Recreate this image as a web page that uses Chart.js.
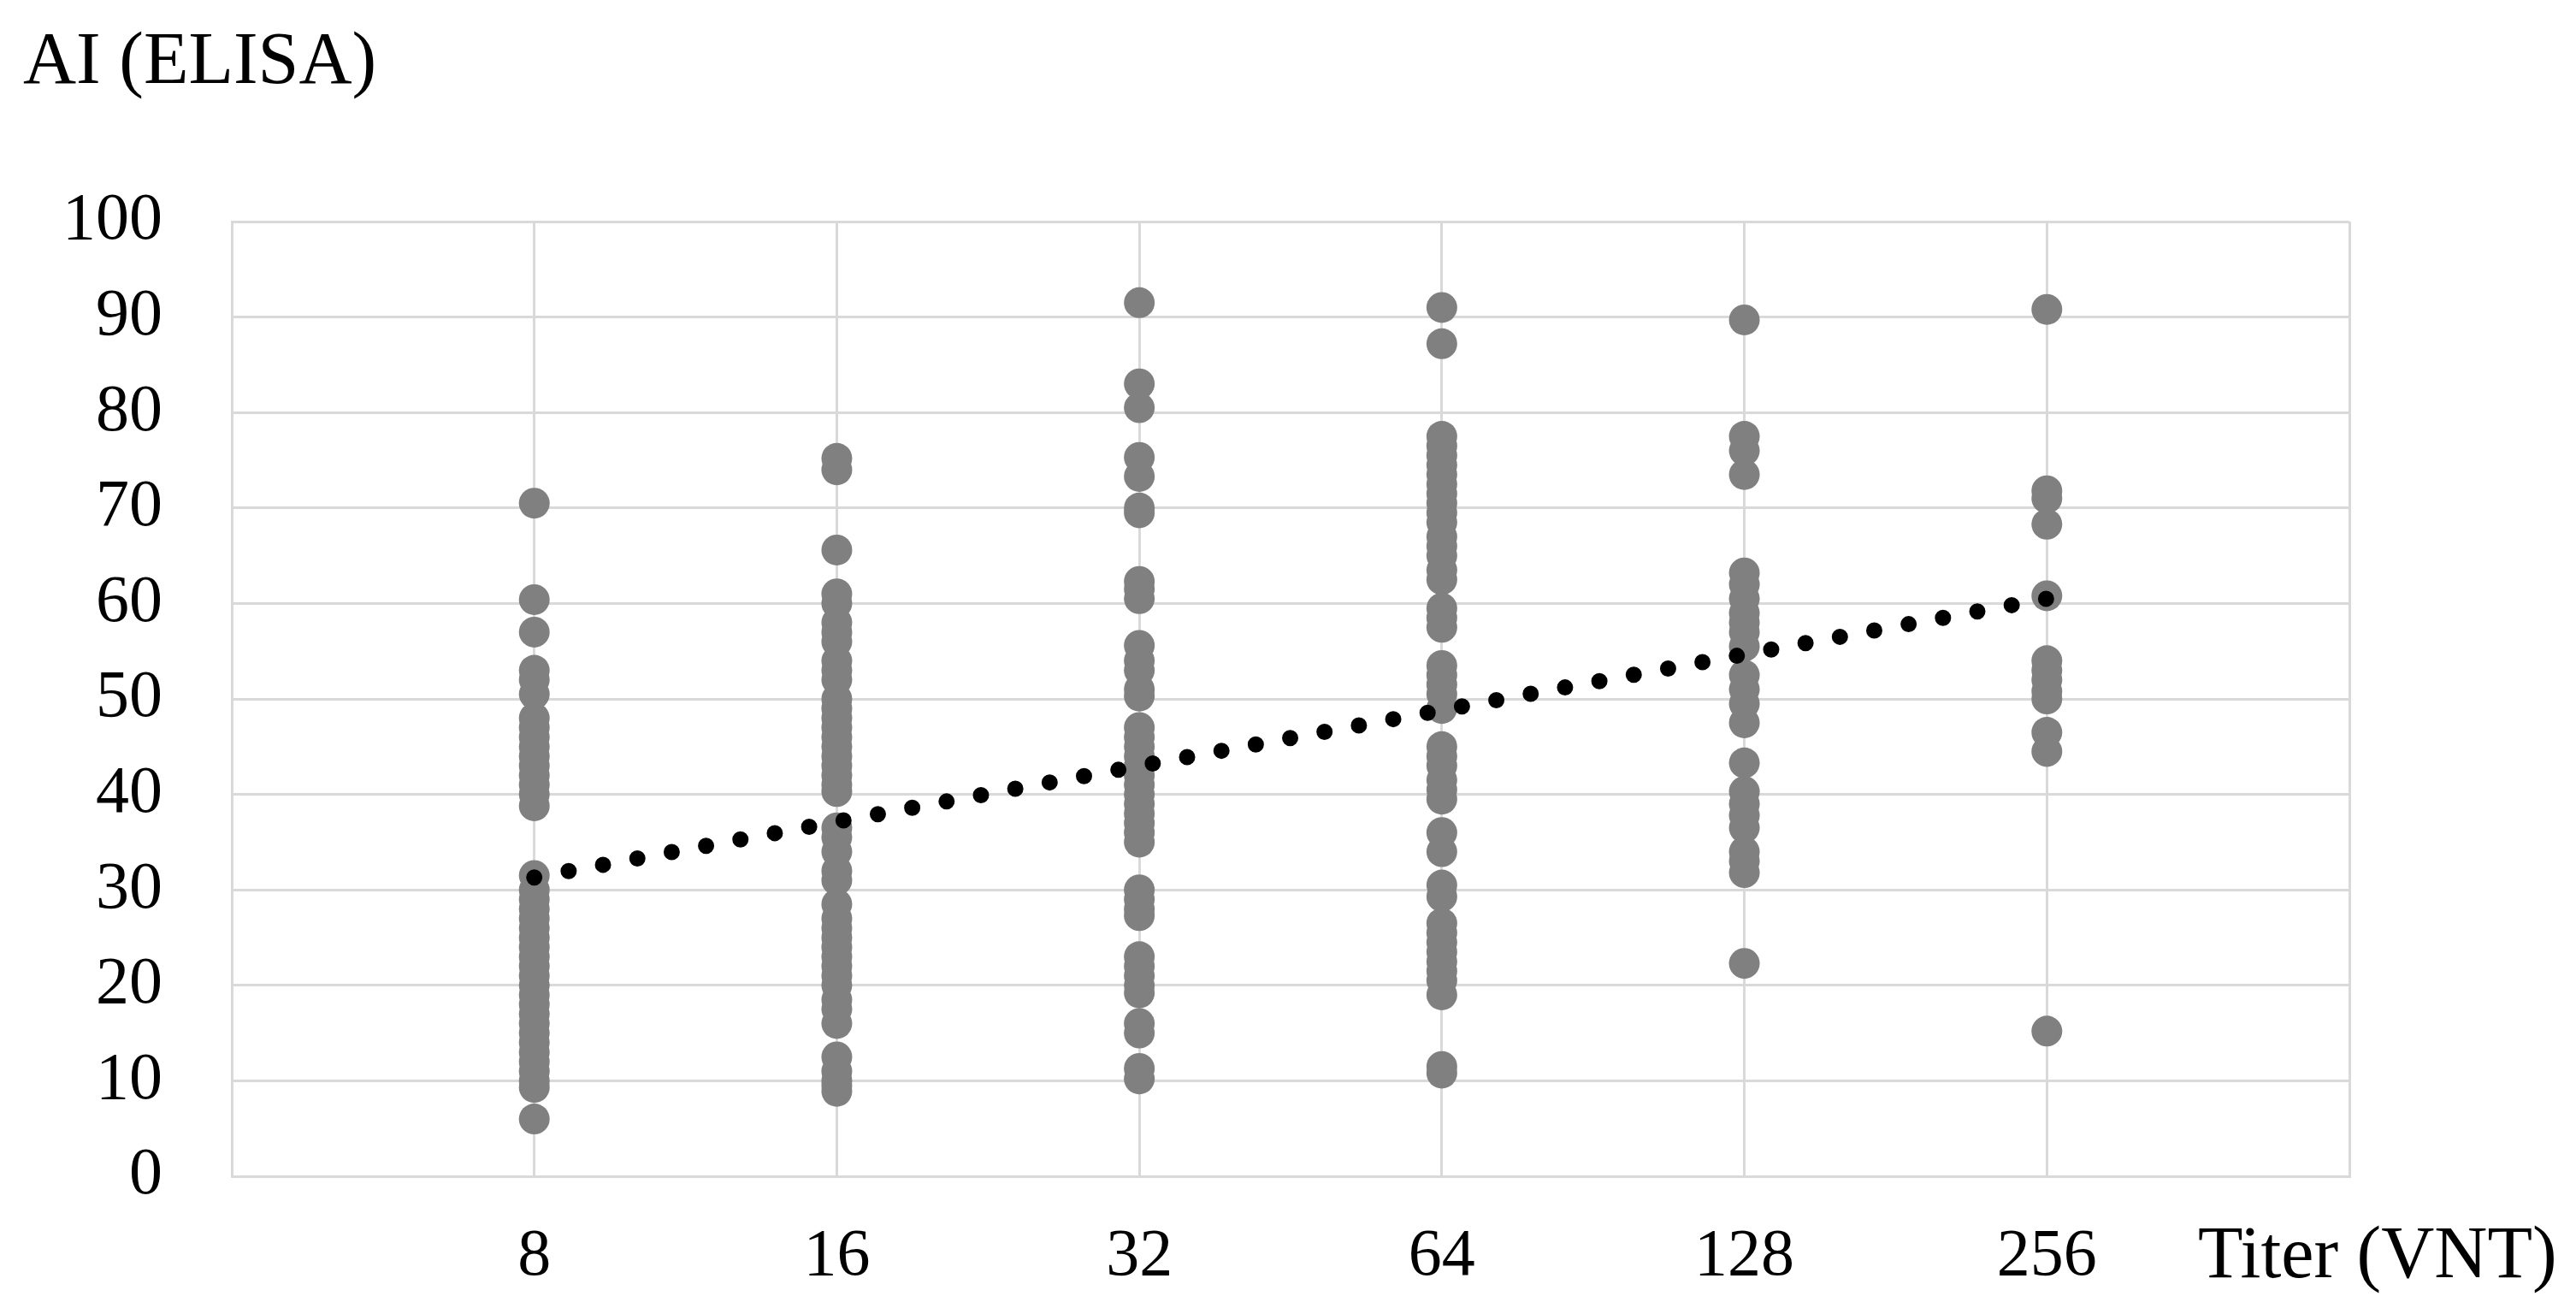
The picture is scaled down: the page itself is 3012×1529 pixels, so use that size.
<!DOCTYPE html>
<html>
<head>
<meta charset="utf-8">
<script src="https://cdn.jsdelivr.net/npm/chart.js@4/dist/chart.umd.min.js"></script>
<style>
  html, body { margin: 0; padding: 0; background: #fff; }
  canvas { display: block; }
</style>
</head>
<body>
<canvas id="aiChart" width="3012" height="1529"></canvas>
<script>
// titers on the x axis (VNT)
const titers = ["8", "16", "32", "64", "128", "256"];

// AI (ELISA) values per titer
const ai8 = [70.5, 60.4, 57, 53, 52, 50.5, 48, 47, 46, 45, 44, 43, 42, 41, 40, 38.8,
    31.5, 30, 29, 28, 27, 26, 25, 24, 23, 22, 21, 20, 19, 18, 17, 16, 15, 14, 13, 12, 11, 10, 9.3, 6];
const ai16 = [75.2, 74, 65.6, 61, 60, 58, 57, 56, 54, 53, 52, 50, 49, 48, 47, 46, 45, 44, 43, 42, 41, 40.3,
    36.5, 35.5, 34, 32, 31, 28.5, 27, 26, 25, 24, 23, 22, 21, 20, 18.5, 17.5, 16, 12.5, 11, 10, 9.5, 8.9];
const ai32 = [91.5, 83, 80.5, 75.3, 73.3, 70, 69.5, 62.3, 61.5, 60.5, 55.6, 54, 53, 51, 50.3,
    47, 46, 45, 44, 43, 42, 41, 40, 39, 38, 37, 36, 35, 30, 29, 28, 27.3, 23, 22, 21, 20, 19.2, 16, 15, 11.3, 10.2];
const ai64 = [91, 87.2, 77.5, 76.5, 75.5, 74.5, 73.5, 72.5, 71.5, 70.5, 69.5, 68.5, 67, 66, 65, 63.5, 62.5,
    59.5, 58.5, 57.5, 53.5, 52.5, 51.5, 50.5, 49, 45, 44, 43, 41.5, 40.5, 39.5, 36, 34, 30.5, 29.3,
    26.5, 25.5, 24.5, 23.5, 22.5, 21.5, 20.5, 19, 11.5, 10.8];
const ai128 = [89.7, 77.5, 76, 73.5, 63.2, 62, 60.5, 59, 58, 57, 55.5, 52.5, 51, 49.5, 47.5, 43.3,
    40.3, 39, 37.8, 36.5, 34, 33, 31.8, 22.3];
const ai256 = [90.8, 71.8, 71, 68.3, 60.8, 54, 53, 52, 50.8, 50, 46.5, 44.5, 15.2];

// linear trend line, value at first and last titer
const trendStart = 31.3;
const trendEnd = 60.5;

const groups = [ai8, ai16, ai32, ai64, ai128, ai256];
const points = [];
groups.forEach(function(vals, i) {
    vals.forEach(function(v) {
        points.push({ x: i + 1, y: v });
    });
});

const serif = "'Liberation Serif', 'Times New Roman', serif";
const gridColor = "#d9d9d9";

// axis titles drawn as plain text on the canvas
const axisTitles = {
    id: "axisTitles",
    afterDraw(chart) {
        const c = chart.ctx;
        c.save();
        c.fillStyle = "#000";
        c.font = "86px " + serif;
        c.textAlign = "left";
        c.textBaseline = "alphabetic";
        c.fillText("AI (ELISA)", 27, 97);
        c.fillText("Titer (VNT)", 2570, 1493);
        c.restore();
    }
};

const ctx = document.getElementById("aiChart").getContext("2d");

const chart = new Chart(ctx, {
    type: "scatter",
    data: {
        datasets: [{
            type: "line",
            label: "Trend",
            data: [{ x: 1, y: trendStart }, { x: titers.length, y: trendEnd }],
            borderColor: "#000",
            borderWidth: 19,
            borderDash: [0, 40.85],
            borderCapStyle: "round",
            pointRadius: 0,
            fill: false,
            order: 0
        }, {
            label: "AI",
            data: points,
            backgroundColor: "#808080",
            borderWidth: 0,
            pointRadius: 18,
            pointHoverRadius: 18,
            order: 1
        }]
    },
    options: {
        responsive: false,
        animation: false,
        events: [],
        layout: {
            padding: { top: 259, right: 265, left: 0, bottom: 0 }
        },
        plugins: {
            legend: { display: false },
            tooltip: { enabled: false }
        },
        scales: {
            x: {
                type: "linear",
                min: 0,
                max: titers.length + 1,
                afterFit: function(scale) { scale.height = 154; },
                grid: { color: gridColor, lineWidth: 3, drawTicks: false },
                border: { color: gridColor, width: 3 },
                ticks: {
                    stepSize: 1,
                    autoSkip: false,
                    maxRotation: 0,
                    padding: 48,
                    color: "#000",
                    font: { family: serif, size: 78 },
                    callback: function(v) {
                        return titers[v - 1] || "";
                    }
                }
            },
            y: {
                min: 0,
                max: 100,
                afterFit: function(scale) { scale.width = 271; },
                grid: { color: gridColor, lineWidth: 3, drawTicks: false },
                border: { color: gridColor, width: 3 },
                ticks: {
                    stepSize: 10,
                    padding: 81,
                    color: "#000",
                    font: { family: serif, size: 78 }
                }
            }
        }
    },
    plugins: [axisTitles]
});
</script>
</body>
</html>
